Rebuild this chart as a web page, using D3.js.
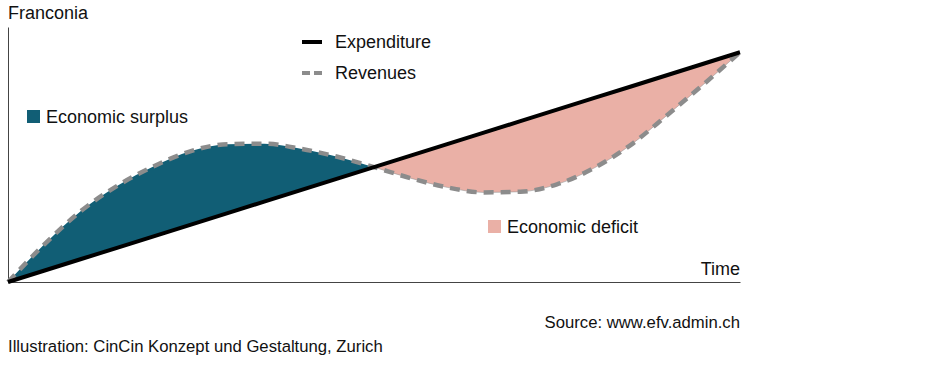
<!DOCTYPE html>
<html>
<head>
<meta charset="utf-8">
<script src="https://cdn.jsdelivr.net/npm/d3@7"></script>
<style>
  body { margin: 0; background: #fff; }
  text { font-family: "Liberation Sans", Arial, sans-serif; font-size: 18px; fill: #111; }
  text.foot { font-size: 16.7px; }
</style>
</head>
<body>
<script>
// schematic values (time 0..100, money 0..100)
var time = [0, 5, 10, 15, 20, 25, 30, 35, 40, 45, 50, 55, 60, 65, 70, 75, 80, 85, 90, 95, 100];
var expenditure = [0, 5, 10, 15, 20, 25, 30, 35, 40, 45, 50, 55, 60, 65, 70, 75, 80, 85, 90, 95, 100];
var revenues = [0, 16.5, 31, 42, 50.5, 57, 60, 60.2, 58, 54.5, 50, 45.2, 41.2, 39, 39.3, 42.5, 49.5, 59.5, 72.5, 86, 100];
var crossing = 50;

var legendLines = ["Expenditure", "Revenues"];
var areaLabels = ["Economic surplus", "Economic deficit"];

var width = 930, height = 366;
var svg = d3.select("body").append("svg")
    .attr("width", width)
    .attr("height", height);

var x = d3.scaleLinear().domain([0, 100]).range([8, 740]);
var y = d3.scaleLinear().domain([0, 111]).range([282, 27]);

var data = time.map(function(t, i) {
    return { t: t, exp: expenditure[i], rev: revenues[i] };
});

// filled areas between both lines
var area = d3.area()
    .x(function(d) { return x(d.t); })
    .y0(function(d) { return y(d.exp); })
    .y1(function(d) { return y(d.rev); })
    .curve(d3.curveMonotoneX);

svg.append("path")
    .datum(data.filter(function(d) { return d.t <= crossing; }))
    .attr("fill", "#115e75")
    .attr("d", area);

svg.append("path")
    .datum(data.filter(function(d) { return d.t >= crossing; }))
    .attr("fill", "#eab0a6")
    .attr("stroke", "#999")
    .attr("stroke-width", 0.6)
    .attr("d", area);

// axes, no ticks
svg.append("g")
    .attr("transform", "translate(0," + y(0) + ")")
    .call(d3.axisBottom(x).tickValues([]).tickSizeOuter(0))
    .select(".domain").attr("stroke", "#444");

svg.append("g")
    .attr("transform", "translate(" + x(0) + ",0)")
    .call(d3.axisLeft(y).tickValues([]).tickSizeOuter(0))
    .select(".domain").attr("stroke", "#444");

var revLine = d3.line()
    .x(function(d) { return x(d.t); })
    .y(function(d) { return y(d.rev); })
    .curve(d3.curveMonotoneX);

var expLine = d3.line()
    .x(function(d) { return x(d.t); })
    .y(function(d) { return y(d.exp); });

svg.append("path")
    .datum(data)
    .attr("fill", "none")
    .attr("stroke", "#8c8c8c")
    .attr("stroke-width", 4.5)
    .attr("stroke-dasharray", "10,7")
    .attr("d", revLine);

svg.append("path")
    .datum(data)
    .attr("fill", "none")
    .attr("stroke", "#000")
    .attr("stroke-width", 4)
    .attr("stroke-linecap", "butt")
    .attr("d", expLine);

// legend for lines
var leg = svg.selectAll(".leg")
    .data(legendLines)
    .enter().append("g")
    .attr("class", "leg")
    .attr("transform", function(d, i) { return "translate(302," + (42 + i * 31) + ")"; });

leg.append("line")
    .attr("x1", 0).attr("x2", 20)
    .attr("stroke", function(d, i) { return i == 0 ? "#000" : "#8c8c8c"; })
    .attr("stroke-width", 4)
    .attr("stroke-dasharray", function(d, i) { return i == 0 ? null : "8,4"; });

leg.append("text")
    .attr("x", 33)
    .attr("dy", "0.35em")
    .text(function(d) { return d; });

// labels for the areas
var areaPos = [[27, 110], [488, 220]];
var areaCol = ["#115e75", "#eab0a6"];
var lab = svg.selectAll(".lab")
    .data(areaLabels)
    .enter().append("g")
    .attr("class", "lab")
    .attr("transform", function(d, i) { return "translate(" + areaPos[i][0] + "," + areaPos[i][1] + ")"; });

lab.append("rect")
    .attr("width", 13).attr("height", 13)
    .attr("fill", function(d, i) { return areaCol[i]; });

lab.append("text")
    .attr("x", 19)
    .attr("y", 13)
    .text(function(d) { return d; });

svg.append("text").attr("x", 8).attr("y", 19).text("Franconia");
svg.append("text").attr("x", 740).attr("y", 275).attr("text-anchor", "end").text("Time");
svg.append("text").attr("class", "foot").attr("x", 740).attr("y", 328).attr("text-anchor", "end").text("Source: www.efv.admin.ch");
svg.append("text").attr("class", "foot").attr("x", 8).attr("y", 352).text("Illustration: CinCin Konzept und Gestaltung, Zurich");
</script>
</body>
</html>
